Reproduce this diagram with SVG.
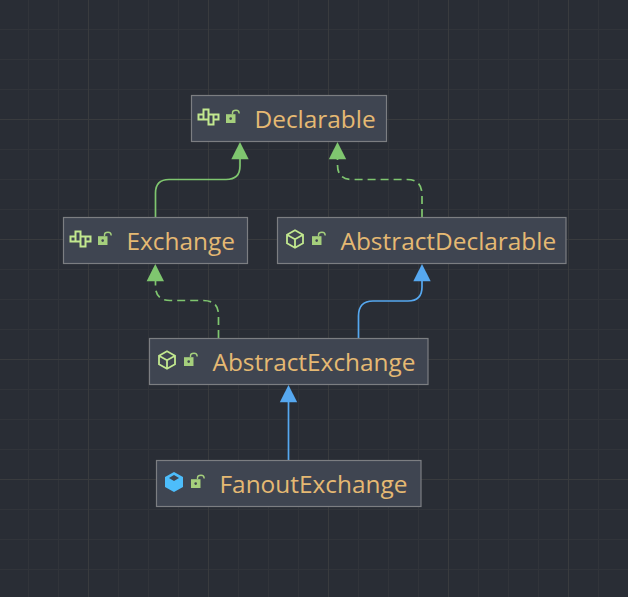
<svg xmlns="http://www.w3.org/2000/svg" width="628" height="597" viewBox="0 0 628 597">
<style>
.bg{fill:#292d35}
.minor{stroke:#31343a;stroke-width:1;fill:none}
.major{stroke:#393b3e;stroke-width:1;fill:none}
.box{fill:#3f4551;stroke:#7c7e82;stroke-width:1.2}
.label{font-family:"Open Sans","Noto Sans",sans-serif;font-size:24.4px;fill:#e5b973}
.inh{fill:none;stroke-width:1.7}
.g{stroke:#7fc66f}
.b{stroke:#56a8f0}
.dash{stroke-dasharray:8 5}
.ic{fill:none;stroke:#c2e88f;stroke-width:1.8;stroke-linejoin:miter}
.ifc{fill:none;stroke:#c2e88f;stroke-width:2;stroke-linejoin:miter}
.lock{fill:#a5cf7c}
.shack{fill:none;stroke:#a5cf7c;stroke-width:1.4}
</style>
<defs>
<g id="iface" class="ifc">
<path d="M1.500 -2.500H6.500V-7.500H11.500V-2.500H21.500V2.500H16.500V7.500H11.500V2.500H1.500ZM6.500 -2.500V2.500M11.500 -2.500V2.500M16.500 -2.500V2.500"/>
</g>
<g id="cube" class="ic">
<path d="M0 -8.700L8 -4.300V4.300L0 8.700L-8 4.300V-4.300ZM-8 -4.300L0 0.200L8 -4.300M0 0.200V8.700"/>
</g>
<g id="lock">
<path class="lock" d="M-7 -2.800H2.500V6H-7Z"/>
<circle cx="-2.300" cy="1.600" r="1.300" fill="#3f4551"/>
<path class="shack" d="M-0.500 -2.800V-4.200Q-0.500 -6.700 3 -6.700Q6.200 -6.700 6.200 -3.600"/>
</g>
</defs>
<rect class="bg" width="628" height="597"/>
<g id="grid">
<path class="minor" d="M28.500 0V597M58.500 0V597M118.500 0V597M148.500 0V597M178.500 0V597M238.500 0V597M268.500 0V597M298.500 0V597M358.500 0V597M388.500 0V597M418.500 0V597M478.500 0V597M508.500 0V597M538.500 0V597M598.500 0V597M0 29.500H628M0 59.500H628M0 89.500H628M0 149.500H628M0 179.500H628M0 209.500H628M0 269.500H628M0 299.500H628M0 329.500H628M0 389.500H628M0 419.500H628M0 449.500H628M0 509.500H628M0 539.500H628M0 569.500H628"/>
<path class="major" d="M88.500 0V597M208.500 0V597M328.500 0V597M448.500 0V597M568.500 0V597M0 119.500H628M0 239.500H628M0 359.500H628M0 479.500H628"/>
</g>
<g id="connectors">
<path class="inh g" d="M155.500 217V193Q155.500 179.500 169 179.500H226Q240 179.500 240 166V158"/>
<path d="M240 142L248.700 159.300H231.300Z" fill="#7fc66f"/>
<path class="inh g dash" d="M422 217V195Q422 179.500 407 179.500H352Q337.500 179.500 337.500 165V158"/>
<path d="M337.500 142L346.200 159.300H328.800Z" fill="#7fc66f"/>
<path class="inh g dash" d="M218.500 338V315Q218.500 300.500 203 300.500H170Q155.500 300.500 155.500 286V280"/>
<path d="M155.300 264L164 281.300H146.600Z" fill="#7fc66f"/>
<path class="inh b" d="M358.500 338V316Q358.500 301 373 301H408Q422 301 422 287V280"/>
<path d="M422 264L430.700 281.300H413.300Z" fill="#56a8f0"/>
<path class="inh b" d="M288.500 460V401"/>
<path d="M288.500 385L297.200 402.300H279.800Z" fill="#56a8f0"/>
</g>
<g id="declarable">
<rect class="box" x="191.500" y="95.500" width="195" height="46"/>
<use href="#iface" x="197" y="117"/>
<use href="#lock" x="233" y="117"/>
<text class="label" x="254.500" y="128">Declarable</text>
</g>
<g id="exchange">
<rect class="box" x="63.500" y="217.500" width="184" height="46"/>
<use href="#iface" x="69" y="239"/>
<use href="#lock" x="105" y="239"/>
<text class="label" x="126.500" y="250">Exchange</text>
</g>
<g id="abstractDeclarable">
<rect class="box" x="277.500" y="217.500" width="288.500" height="46"/>
<use href="#cube" x="295" y="239"/>
<use href="#lock" x="319" y="239"/>
<text class="label" x="340.500" y="250">AbstractDeclarable</text>
</g>
<g id="abstractExchange">
<rect class="box" x="149.500" y="338.500" width="278.500" height="46"/>
<use href="#cube" x="167" y="360"/>
<use href="#lock" x="191" y="360"/>
<text class="label" x="212.500" y="371">AbstractExchange</text>
</g>
<g id="fanoutExchange">
<rect class="box" x="156.500" y="460.500" width="264.500" height="46"/>
<path d="M174 472L183 477V487L174 492L165 487V477Z" fill="#4dbdfb"/>
<path d="M174 475L179 478L174 481L169 478Z" fill="#3f4551"/>
<use href="#lock" x="198" y="482"/>
<text class="label" x="219.500" y="493">FanoutExchange</text>
</g>
</svg>
